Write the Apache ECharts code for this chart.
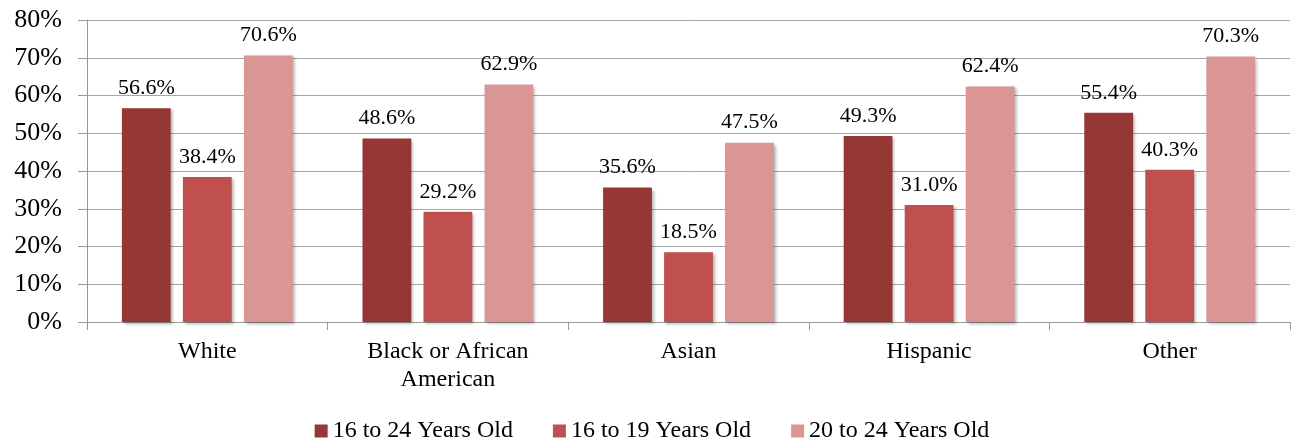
<!DOCTYPE html>
<html>
<head>
<meta charset="utf-8">
<script src="https://cdn.jsdelivr.net/npm/echarts@6/dist/echarts.min.js"></script>
<style>html,body{margin:0;padding:0;background:#fff;}#c{width:1304px;height:442px;}</style>
</head>
<body>
<div id="c"></div>
<script>
var categories = ['White', 'Black or African\nAmerican', 'Asian', 'Hispanic', 'Other'];
var seriesNames = ['16 to 24 Years Old', '16 to 19 Years Old', '20 to 24 Years Old'];
var s16to24 = [56.6, 48.6, 35.6, 49.3, 55.4];
var s16to19 = [38.4, 29.2, 18.5, 31.0, 40.3];
var s20to24 = [70.6, 62.9, 47.5, 62.4, 70.3];
var colors = ['#953735', '#c0504d', '#d99694'];
var yTicks = [0, 10, 20, 30, 40, 50, 60, 70, 80];

var FONT = '"Liberation Serif", "DejaVu Serif", serif';
var data = [s16to24, s16to19, s20to24];
var chart = echarts.init(document.getElementById('c'), null, {renderer: 'canvas'});
chart.setOption({
  animation: false,
  color: colors,
  textStyle: {fontFamily: FONT, color: '#000'},
  grid: {left: 87, right: 14, top: 20, bottom: 120, containLabel: false},
  legend: {
    top: 414, left: 'center', itemWidth: 13, itemHeight: 13, itemGap: 40,
    icon: 'rect',
    textStyle: {fontFamily: FONT, fontSize: 24, color: '#000'},
    data: seriesNames
  },
  xAxis: {
    type: 'category', data: categories,
    axisLine: {lineStyle: {color: '#999', width: 1}},
    axisTick: {show: true, length: 8, lineStyle: {color: '#999'}},
    axisLabel: {fontFamily: FONT, fontSize: 24, color: '#000', margin: 16, lineHeight: 28}
  },
  yAxis: {
    type: 'value', min: yTicks[0], max: yTicks[yTicks.length - 1], interval: 10,
    axisLine: {show: true, lineStyle: {color: '#999', width: 1}},
    axisTick: {show: true, length: 9, lineStyle: {color: '#999'}},
    splitLine: {show: true, lineStyle: {color: '#a6a6a6', width: 1}},
    axisLabel: {fontFamily: FONT, fontSize: 26, color: '#000', margin: 25,
      formatter: function (v) { return v + '%'; }}
  },
  series: data.map(function (d, i) {
    return {
      name: seriesNames[i], type: 'bar', data: d,
      barGap: '25%', barCategoryGap: '29%',
      itemStyle: {color: colors[i], shadowBlur: 3, shadowOffsetX: 2, shadowOffsetY: 2, shadowColor: 'rgba(0,0,0,0.3)'},
      label: {show: true, position: 'top', distance: 9, fontFamily: FONT, fontSize: 22, color: '#000',
        formatter: function (p) { return p.value.toFixed(1) + '%'; }}
    };
  })
});
</script>
</body>
</html>
